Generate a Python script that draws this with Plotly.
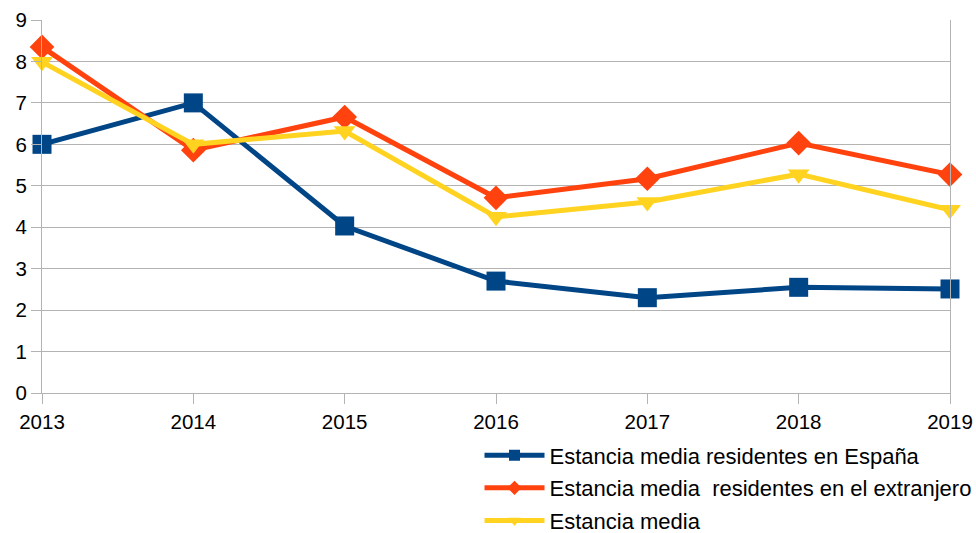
import plotly.graph_objects as go

years = [2013, 2014, 2015, 2016, 2017, 2018, 2019]
espana = [6.0, 7.0, 4.03, 2.70, 2.30, 2.55, 2.51]
extranjero = [8.35, 5.86, 6.66, 4.71, 5.17, 6.03, 5.27]
media = [7.99, 6.0, 6.32, 4.25, 4.61, 5.28, 4.42]

names = ["Estancia media residentes en España",
         "Estancia media  residentes en el extranjero",
         "Estancia media"]
colors = ["#004586", "#ff420e", "#ffd320"]
symbols = ["square", "diamond", "triangle-down"]

fig = go.Figure()
for i, (vals, nm, c, s) in enumerate(zip([espana, extranjero, media], names, colors, symbols)):
    fig.add_trace(go.Scatter(
        x=years, y=vals, name=nm, mode="lines+markers",
        line=dict(color=c, width=5),
        marker=dict(symbol=s, size=19, color=c, line=dict(width=0)),
        cliponaxis=False, showlegend=False, legendgroup=f"g{i}",
    ))
# legend entries with smaller symbols
for i, (nm, c, s) in enumerate(zip(names, colors, symbols)):
    fig.add_trace(go.Scatter(
        x=[None], y=[None], name=nm, mode="lines+markers",
        line=dict(color=c, width=5),
        marker=dict(symbol=s, size=11, color=c, line=dict(width=0)),
        showlegend=True, legendgroup=f"g{i}",
    ))

fig.update_layout(
    width=976, height=533,
    paper_bgcolor="white", plot_bgcolor="white",
    margin=dict(l=42, r=26, t=20, b=140, autoexpand=False),
    font=dict(family="Liberation Sans, Arial, sans-serif", size=20.5, color="#000000"),
    showlegend=True,
    legend=dict(
        xref="container", yref="container",
        x=0.4913, xanchor="left", y=0.185, yanchor="top",
        font=dict(size=22), bgcolor="rgba(0,0,0,0)",
        itemwidth=60, tracegroupgap=1,
    ),
    xaxis=dict(
        range=[2013, 2019], tickvals=years, ticktext=[str(y) for y in years],
        showgrid=False,
        showline=True, linecolor="#b3b3b3", linewidth=1,
        ticks="outside", ticklen=10, tickcolor="#b3b3b3",
        zeroline=False, fixedrange=True, automargin=False,
    ),
    yaxis=dict(
        range=[0, 9], tickvals=list(range(0, 10)),
        showgrid=True, gridcolor="#b3b3b3", gridwidth=1,
        showline=True, linecolor="#b3b3b3", linewidth=1, mirror=True,
        ticks="outside", ticklen=10, tickcolor="#b3b3b3",
        zeroline=False, fixedrange=True, automargin=False,
    ),
)

fig.write_html(
    "out.html",
    config={"displayModeBar": False},
    post_script="document.body.style.margin='0px';document.body.style.overflow='hidden';",
)
